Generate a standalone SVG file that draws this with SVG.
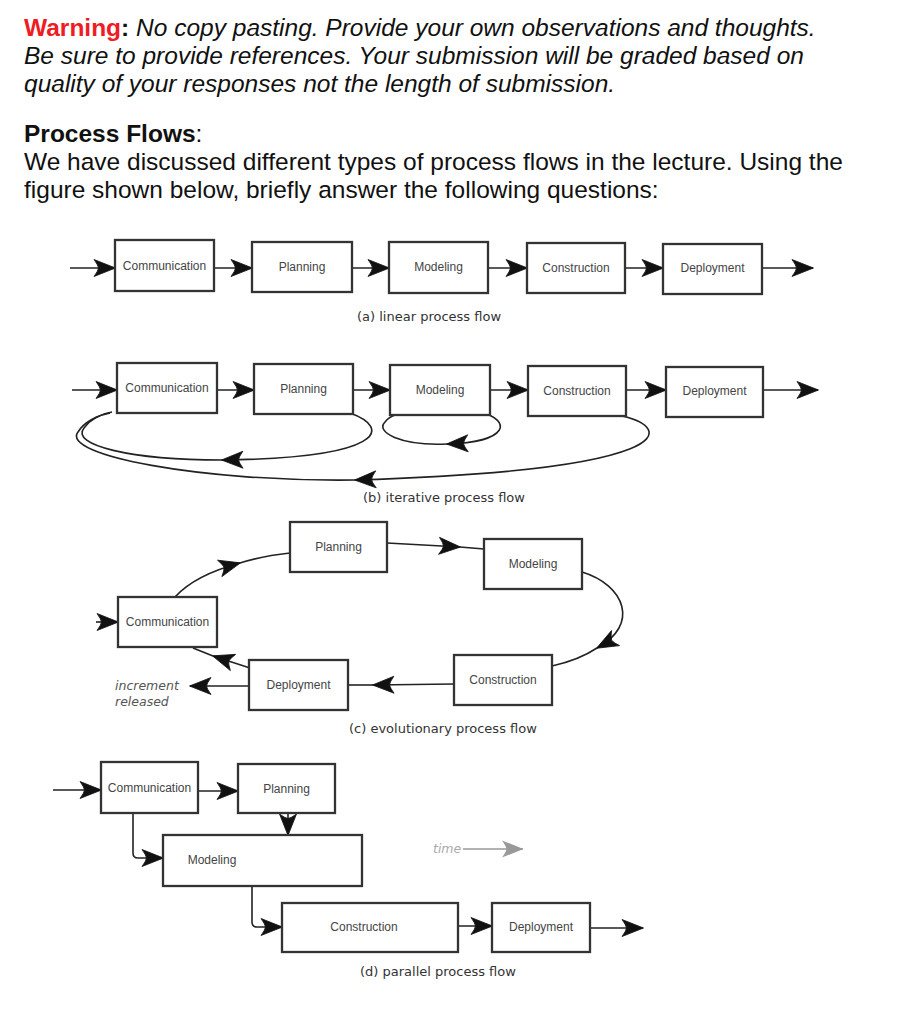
<svg xmlns="http://www.w3.org/2000/svg" width="916" height="1024" viewBox="0 0 916 1024">
<style>
.hdr{font-family:"Liberation Sans",Arial,sans-serif;font-size:24.5px;fill:#111}
.it{font-style:italic}
.b{font-weight:bold}
.box{fill:#fff;stroke:#333;stroke-width:2.3}
.lbl{font-family:"Liberation Sans",Arial,sans-serif;font-size:12px;fill:#444;text-anchor:middle}
.cap{font-family:"DejaVu Sans",sans-serif;font-size:13px;fill:#333}
.note{font-family:"DejaVu Sans",sans-serif;font-size:12.5px;font-style:italic;fill:#555}
.ln{fill:none;stroke:#222;stroke-width:1.6}
.ar{marker-end:url(#ah)}
</style>
<defs>
<marker id="ah" viewBox="-23 -10 25 20" refX="0" refY="0" markerWidth="25" markerHeight="20" markerUnits="userSpaceOnUse" orient="auto">
<path d="M0.5 0 L-21 -8.5 Q-17 -3 -16.5 0 Q-17 3 -21 8.5 Z" fill="#111" stroke="#111" stroke-width="0.8" stroke-linejoin="round"/>
</marker>
<marker id="ahg" viewBox="-23 -10 25 20" refX="0" refY="0" markerWidth="25" markerHeight="20" markerUnits="userSpaceOnUse" orient="auto">
<path d="M0.5 0 L-21 -8.5 Q-17 -3 -16.5 0 Q-17 3 -21 8.5 Z" fill="#999"/>
</marker>
</defs>
<rect width="916" height="1024" fill="#fff"/>

<g id="header">
<text class="hdr" x="24" y="35.5"><tspan class="b" fill="#ee1c25">Warning</tspan><tspan class="b">:</tspan><tspan class="it"> No copy pasting. Provide your own observations and thoughts.</tspan></text>
<text class="hdr it" x="24" y="63.5">Be sure to provide references. Your submission will be graded based on</text>
<text class="hdr it" x="24" y="91.5">quality of your responses not the length of submission.</text>
<text class="hdr" x="24" y="141.5"><tspan class="b">Process Flows</tspan>:</text>
<text class="hdr" x="24" y="169.5">We have discussed different types of process flows in the lecture. Using the</text>
<text class="hdr" x="24" y="197.5">figure shown below, briefly answer the following questions:</text>
</g>

<g id="connectors">
<!-- (a) -->
<path class="ln ar" d="M70 268 L115 268"/>
<path class="ln ar" d="M214 268 L252 268"/>
<path class="ln ar" d="M352 268 L389 268"/>
<path class="ln ar" d="M488 268 L527 268"/>
<path class="ln ar" d="M625 268 L663 268"/>
<path class="ln ar" d="M762 268 L813 268"/>
<!-- (b) -->
<path class="ln ar" d="M72 390 L117 390"/>
<path class="ln ar" d="M217 390 L254 390"/>
<path class="ln ar" d="M353 390 L390 390"/>
<path class="ln ar" d="M490 390 L528 390"/>
<path class="ln ar" d="M626 390 L666 390"/>
<path class="ln ar" d="M763 390 L818 390"/>
<path class="ln ar" d="M350 413 C392 428 385 458 222 460"/>
<path class="ln" d="M222 460 C130 460 70 445 84 428 C90 420 100 414 112 412"/>
<path class="ln ar" d="M480 412 C512 420 510 442 447 444"/>
<path class="ln" d="M447 444 C400 446 375 432 385 422 C388 418 392 416 395 415"/>
<path class="ln ar" d="M622 416 C675 428 680 470 355 480"/>
<path class="ln" d="M355 480 C200 482 60 455 78 432 C84 422 98 415 110 413"/>
<!-- (c) -->
<path class="ln ar" d="M96 622 L118 622"/>
<path class="ln ar" d="M175 597 Q195 575 240 563"/>
<path class="ln" d="M240 563 Q262 556 290 553"/>
<path class="ln ar" d="M387 543 L460 547"/>
<path class="ln" d="M460 547 L484 549"/>
<path class="ln ar" d="M582 572 C625 585 640 625 597 648"/>
<path class="ln" d="M597 648 C585 656 570 662 552 666"/>
<path class="ln ar" d="M454 684 L373 685"/>
<path class="ln" d="M373 685 L348 685"/>
<path class="ln ar" d="M250 668 L213 656"/>
<path class="ln" d="M213 656 L193 648"/>
<path class="ln ar" d="M249 686 L190 686"/>
<!-- (d) -->
<path class="ln ar" d="M53 790 L101 790"/>
<path class="ln ar" d="M198 791 L238 791"/>
<path class="ln ar" d="M288 813 L288 835"/>
<path class="ln ar" d="M133 813 L133 853 Q133 858 138 858 L163 858"/>
<path class="ln ar" d="M252 886 L252 922 Q252 927 257 927 L282 927"/>
<path class="ln ar" d="M458 926 L492 926"/>
<path class="ln ar" d="M590 928 L643 928"/>
<path fill="none" stroke="#999" stroke-width="1.6" marker-end="url(#ahg)" d="M463 849 L523 849"/>
</g>

<g id="a-communication"><rect class="box" x="115" y="240" width="99" height="51"/><text class="lbl" x="164.5" y="270">Communication</text></g>
<g id="a-planning"><rect class="box" x="252" y="242" width="100" height="50"/><text class="lbl" x="302" y="271">Planning</text></g>
<g id="a-modeling"><rect class="box" x="389" y="242" width="99" height="51"/><text class="lbl" x="438.5" y="271">Modeling</text></g>
<g id="a-construction"><rect class="box" x="527" y="243" width="98" height="50"/><text class="lbl" x="576" y="272">Construction</text></g>
<g id="a-deployment"><rect class="box" x="663" y="244" width="99" height="50"/><text class="lbl" x="712.5" y="272">Deployment</text></g>
<text class="cap" x="357" y="321">(a) linear process flow</text>

<g id="b-communication"><rect class="box" x="117" y="363" width="100" height="50"/><text class="lbl" x="167" y="392">Communication</text></g>
<g id="b-planning"><rect class="box" x="254" y="364" width="99" height="50"/><text class="lbl" x="303.5" y="393">Planning</text></g>
<g id="b-modeling"><rect class="box" x="390" y="365" width="100" height="50"/><text class="lbl" x="440" y="394">Modeling</text></g>
<g id="b-construction"><rect class="box" x="528" y="366" width="98" height="50"/><text class="lbl" x="577" y="395">Construction</text></g>
<g id="b-deployment"><rect class="box" x="666" y="367" width="97" height="50"/><text class="lbl" x="714.5" y="395">Deployment</text></g>
<text class="cap" x="363" y="502">(b) iterative process flow</text>

<g id="c-planning"><rect class="box" x="290" y="522" width="97" height="50"/><text class="lbl" x="338.5" y="551">Planning</text></g>
<g id="c-communication"><rect class="box" x="118" y="597" width="99" height="50"/><text class="lbl" x="167.5" y="626">Communication</text></g>
<g id="c-modeling"><rect class="box" x="484" y="539" width="98" height="50"/><text class="lbl" x="533" y="568">Modeling</text></g>
<g id="c-construction"><rect class="box" x="454" y="655" width="98" height="50"/><text class="lbl" x="503" y="684">Construction</text></g>
<g id="c-deployment"><rect class="box" x="249" y="660" width="99" height="50"/><text class="lbl" x="298.5" y="689">Deployment</text></g>
<g id="c-increment"><text class="note" x="115" y="690">increment</text><text class="note" x="115" y="706">released</text></g>
<text class="cap" x="349" y="733">(c) evolutionary process flow</text>

<g id="d-communication"><rect class="box" x="101" y="762" width="97" height="51"/><text class="lbl" x="149.5" y="792">Communication</text></g>
<g id="d-planning"><rect class="box" x="238" y="764" width="97" height="49"/><text class="lbl" x="286.5" y="793">Planning</text></g>
<g id="d-modeling"><rect class="box" x="163" y="835" width="199" height="51"/><text class="lbl" x="212" y="864">Modeling</text></g>
<g id="d-construction"><rect class="box" x="282" y="903" width="176" height="49"/><text class="lbl" x="364" y="931">Construction</text></g>
<g id="d-deployment"><rect class="box" x="492" y="903" width="98" height="49"/><text class="lbl" x="541" y="931">Deployment</text></g>
<text class="note" x="433" y="853" style="fill:#aaa">time</text>
<text class="cap" x="360" y="976">(d) parallel process flow</text>
</svg>
